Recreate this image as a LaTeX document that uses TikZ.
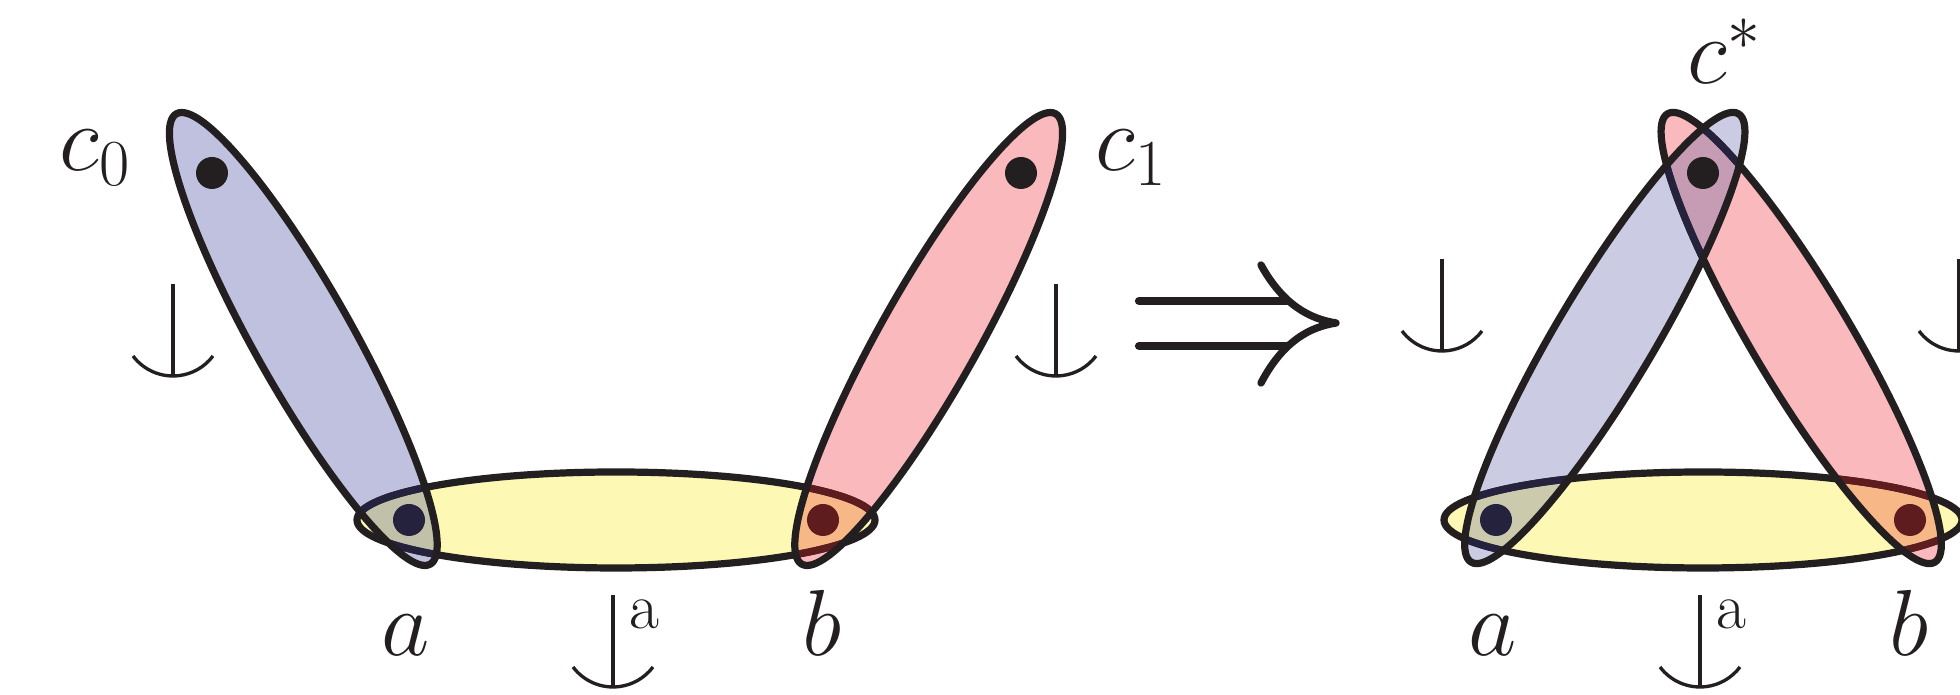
\RequirePackage{fix-cm}
\documentclass[tikz,border=0pt]{standalone}
\definecolor{cyel}{HTML}{FDF9B4}
\definecolor{cblueL}{HTML}{BFC1DF}
\definecolor{cblueR}{HTML}{CBCCE3}
\definecolor{cpink}{HTML}{F9B9BD}
\definecolor{colivL}{HTML}{C1C1AA}
\definecolor{colivR}{HTML}{CCCAAD}
\definecolor{corange}{HTML}{F7B786}
\definecolor{cmauve}{HTML}{C69BB4}
\definecolor{cink}{HTML}{231F20}
\definecolor{cnavy}{HTML}{25223D}
\definecolor{cdred}{HTML}{5E1C1F}
\tikzset{
  outl/.style={draw=cink, line width=2.05pt},
  symline/.style={draw=cink, line width=0.95pt},
  lab/.style={inner sep=0pt, text=cink, font=\fontsize{26.7}{32}\selectfont},
  suplab/.style={inner sep=0pt, text=cink, font=\fontsize{18.5}{22}\selectfont},
  eBL/.style={shift={(303.3,356)}, rotate=-60.6},
  ePL/.style={shift={(928.7,356)}, rotate=60.6},
  eBR/.style={shift={(1604.8,357)}, rotate=59.2},
  ePR/.style={shift={(1801.2,357)}, rotate=-59.2},
  pics/hangsym/.style={code={
    \draw[symline] (0,0) -- (0,92);
    \draw[symline] (-40,20) arc[start angle=216.87, end angle=323.13, radius=50];
  }}
}
\begin{document}
\begin{tikzpicture}[x=0.01cm, y=0.01cm]
\useasboundingbox (0,0) rectangle (1960,695);
\clip (0,0) rectangle (1960,695);

% ---------------- left figure ----------------
\fill[cyel] (616,175) ellipse[x radius=259, y radius=48];
\fill[cblueL, eBL] (0,0) ellipse[x radius=258.5, y radius=49];
\fill[cpink, ePL] (0,0) ellipse[x radius=258.5, y radius=49];
\begin{scope}
  \clip (616,175) ellipse[x radius=259, y radius=48];
  \fill[colivL, eBL] (0,0) ellipse[x radius=258.5, y radius=49];
  \fill[corange, ePL] (0,0) ellipse[x radius=258.5, y radius=49];
\end{scope}
\draw[outl] (616,175) ellipse[x radius=259, y radius=48];
\begin{scope}
  \clip[eBL] (0,0) ellipse[x radius=258.5, y radius=49];
  \draw[outl, draw=cnavy] (616,175) ellipse[x radius=259, y radius=48];
\end{scope}
\begin{scope}
  \clip[ePL] (0,0) ellipse[x radius=258.5, y radius=49];
  \draw[outl, draw=cdred] (616,175) ellipse[x radius=259, y radius=48];
\end{scope}
\fill[cnavy] (409,175) circle[radius=16];
\fill[cdred] (823,175) circle[radius=16];
\draw[outl, eBL] (0,0) ellipse[x radius=258.5, y radius=49];
\draw[outl, ePL] (0,0) ellipse[x radius=258.5, y radius=49];
\fill[cink] (212,522) circle[radius=16];
\fill[cink] (1021,522) circle[radius=16];

\node[lab, anchor=base west] (lc0) at (59,524) {$c_0$};
\node[lab, anchor=base west] (lc1) at (1095,524) {$c_1$};
\node[lab, anchor=base] (la1) at (406,39) {$a$};
\node[lab, anchor=base] (lb1) at (822,39) {$b$};
\pic at (173,319) {hangsym};
\pic at (1056,319) {hangsym};
\pic at (613,8) {hangsym};
\node[suplab, anchor=base west] (sa1) at (629,66) {a};

% ---------------- implication arrow ----------------
\draw[cink, line width=2.35pt, line cap=round] (1139,394) -- (1287,394);
\draw[cink, line width=2.35pt, line cap=round] (1139,349) -- (1287,349);
\draw[cink, line width=2.1pt, line cap=round, line join=round]
  (1261,430) .. controls (1283,390) and (1310,376) .. (1336,372)
  .. controls (1310,368) and (1283,354) .. (1261,312);

% ---------------- right figure ----------------
\fill[cyel] (1703,175) ellipse[x radius=259, y radius=48];
\fill[cblueR, eBR] (0,0) ellipse[x radius=261, y radius=49];
\fill[cpink, ePR] (0,0) ellipse[x radius=261, y radius=49];
\begin{scope}
  \clip (1703,175) ellipse[x radius=259, y radius=48];
  \fill[colivR, eBR] (0,0) ellipse[x radius=261, y radius=49];
  \fill[corange, ePR] (0,0) ellipse[x radius=261, y radius=49];
\end{scope}
\begin{scope}
  \clip[eBR] (0,0) ellipse[x radius=261, y radius=49];
  \fill[cmauve, ePR] (0,0) ellipse[x radius=261, y radius=49];
\end{scope}
\draw[outl] (1703,175) ellipse[x radius=259, y radius=48];
\begin{scope}
  \clip[eBR] (0,0) ellipse[x radius=261, y radius=49];
  \draw[outl, draw=cnavy] (1703,175) ellipse[x radius=259, y radius=48];
\end{scope}
\begin{scope}
  \clip[ePR] (0,0) ellipse[x radius=261, y radius=49];
  \draw[outl, draw=cdred] (1703,175) ellipse[x radius=259, y radius=48];
\end{scope}
\draw[outl, ePR] (0,0) ellipse[x radius=261, y radius=49];
\begin{scope}
  \clip[eBR] (0,0) ellipse[x radius=261, y radius=49];
  \draw[outl, draw=cnavy, ePR] (0,0) ellipse[x radius=261, y radius=49];
\end{scope}
\draw[outl, eBR] (0,0) ellipse[x radius=261, y radius=49];
\fill[cnavy] (1496,175) circle[radius=16];
\fill[cdred] (1910,175) circle[radius=16];
\fill[cink] (1703,522) circle[radius=16];

\node[lab, anchor=base west] (lcs) at (1687,611) {$c^*$};
\node[lab, anchor=base] (la2) at (1493,39) {$a$};
\node[lab, anchor=base] (lb2) at (1909,39) {$b$};
\pic at (1442,344) {hangsym};
\pic at (1959,344) {hangsym};
\pic at (1700,8) {hangsym};
\node[suplab, anchor=base west] (sa2) at (1716,66) {a};
\end{tikzpicture}
\end{document}
